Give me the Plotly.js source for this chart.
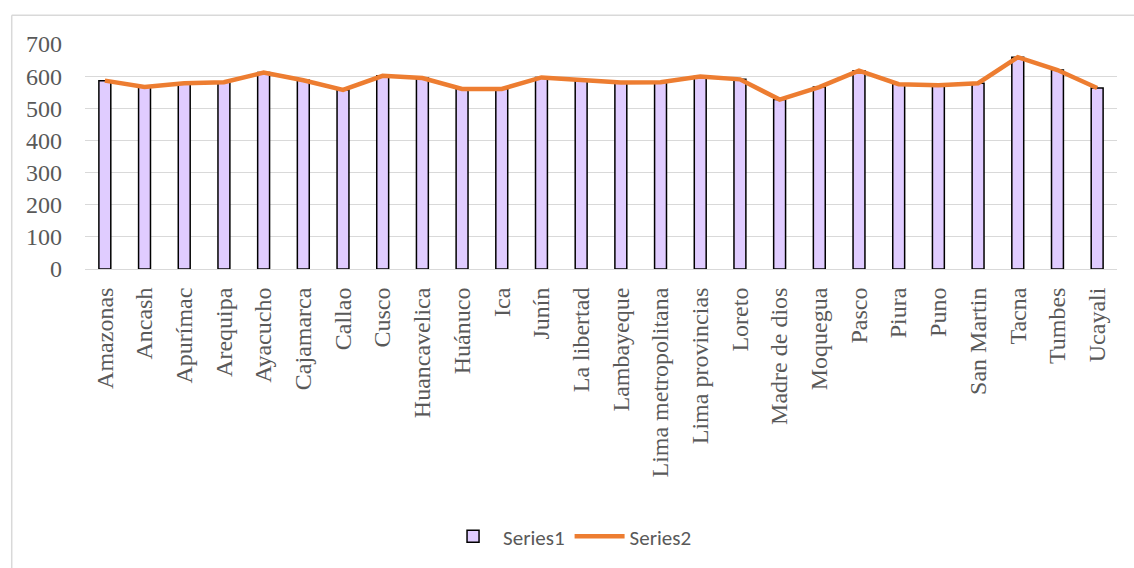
<!DOCTYPE html>
<html>
<head>
<meta charset="utf-8">
<script src="https://cdn.plot.ly/plotly-3.0.1.min.js"></script>
<style>html,body{margin:0;padding:0;background:#fff;}#chart{width:1134px;height:568px;}</style>
</head>
<body>
<div id="chart"></div>
<script>
const categories = ["Amazonas","Ancash","Apurímac","Arequipa","Ayacucho","Cajamarca","Callao","Cusco","Huancavelica","Huánuco","Ica","Junín","La libertad","Lambayeque","Lima metropolitana","Lima provincias","Loreto","Madre de dios","Moquegua","Pasco","Piura","Puno","San Martin","Tacna","Tumbes","Ucayali"];
const series1 = [586,566,578,581,611,587,557,601,594,560,560,596,588,580,581,599,590,527,566,617,575,572,578,659,619,563];
const series2 = [586,566,578,581,611,587,557,601,594,560,560,596,588,580,581,599,590,527,566,617,575,572,578,659,619,563];
const yTicks = [0,100,200,300,400,500,600,700];

const traces = [
  {type:'bar', name:'Series1', x:categories, y:series1, width:0.3,
   marker:{color:'#E0CCFF', line:{color:'#000000', width:1.5}}},
  {type:'scatter', mode:'lines', name:'Series2', x:categories, y:series2,
   line:{color:'#ED7D31', width:4.5}}
];
const layout = {
  width:1134, height:568,
  margin:{l:85, r:17, t:44, b:298},
  paper_bgcolor:'#ffffff', plot_bgcolor:'#ffffff',
  font:{family:'Liberation Serif, Times New Roman, serif', color:'#595959', size:24},
  showlegend:true,
  legend:{orientation:'h', x:0.47, xanchor:'center', y:-1.18, yanchor:'middle', itemwidth:50,
    font:{family:'Carlito, Liberation Sans, Arial, sans-serif', size:21, color:'#595959'}},
  xaxis:{type:'category', tickangle:-90, showgrid:false, showline:true, linecolor:'#d9d9d9', linewidth:1,
    ticks:'', ticklabelstandoff:8, tickfont:{size:24}},
  yaxis:{range:[0,700], tickvals:yTicks, showgrid:true, gridcolor:'#d9d9d9', gridwidth:1,
    zeroline:false, showline:false, ticks:'', ticklabelstandoff:22, tickfont:{size:24}},
  bargap:0.7,
  shapes:[
    {type:'line', xref:'paper', yref:'paper', x0:-0.071, x1:1.02, y0:1.128, y1:1.128, line:{color:'#d9d9d9', width:1.5}},
    {type:'line', xref:'paper', yref:'paper', x0:-0.071, x1:-0.071, y0:1.128, y1:-1.35, line:{color:'#d9d9d9', width:1.5}}
  ]
};
Plotly.newPlot('chart', traces, layout, {displayModeBar:false, staticPlot:true});
</script>
</body>
</html>
